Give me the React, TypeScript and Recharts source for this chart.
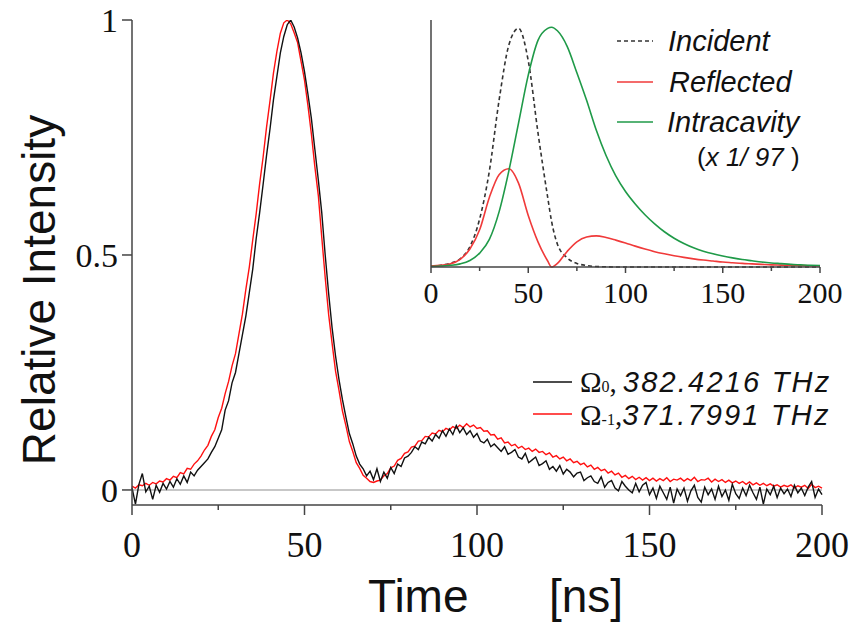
import React from "react";
import {
  LineChart,
  Line,
  XAxis,
  YAxis,
  ReferenceLine,
} from "recharts";

// main trace, sampled every 1 ns from 0 to 200 ns
const SAMPLE_STEP_NS = 1;

const omega0Intensity = [
  0.005, -0.030, 0.012, 0.035, -0.004, 0.008, -0.020, 0.010, -0.005, 0.014,
  0.002, 0.018, 0.006, 0.024, 0.012, 0.030, 0.016, 0.038, 0.030, 0.042,
  0.050, 0.058, 0.066, 0.080, 0.092, 0.110, 0.128, 0.170, 0.190, 0.228,
  0.250, 0.290, 0.330, 0.370, 0.420, 0.470, 0.535, 0.590, 0.650, 0.712,
  0.768, 0.830, 0.880, 0.930, 0.965, 0.990, 1.000, 0.985, 0.962, 0.930,
  0.890, 0.842, 0.790, 0.725, 0.660, 0.590, 0.500, 0.418, 0.345, 0.285,
  0.235, 0.192, 0.155, 0.120, 0.098, 0.072, 0.055, 0.045, 0.030, 0.040,
  0.022, 0.045, 0.018, 0.038, 0.025, 0.048, 0.035, 0.055, 0.050, 0.068,
  0.072, 0.080, 0.092, 0.086, 0.102, 0.098, 0.112, 0.104, 0.118, 0.110,
  0.126, 0.114, 0.130, 0.118, 0.137, 0.122, 0.132, 0.118, 0.126, 0.112,
  0.120, 0.104, 0.100, 0.108, 0.092, 0.098, 0.090, 0.082, 0.092, 0.076,
  0.080, 0.086, 0.070, 0.066, 0.078, 0.058, 0.064, 0.070, 0.052, 0.056,
  0.062, 0.044, 0.050, 0.040, 0.052, 0.034, 0.044, 0.038, 0.028, 0.036,
  0.038, 0.020, 0.026, 0.030, 0.018, 0.014, 0.028, 0.006, 0.016, 0.020,
  0.004, -0.002, 0.018, 0.008, 0.000, -0.006, 0.014, -0.004, 0.010, 0.016,
  -0.010, 0.004, -0.018, 0.008, -0.006, -0.020, 0.006, -0.028, 0.002, -0.012,
  0.004, -0.024, -0.002, 0.010, -0.016, -0.026, 0.006, -0.010, 0.002, -0.020,
  0.008, -0.014, 0.000, -0.022, 0.012, -0.008, -0.018, 0.004, -0.012, 0.010,
  -0.006, -0.020, 0.006, -0.030, 0.002, -0.010, 0.008, -0.016, 0.004, -0.008,
  0.002, -0.014, 0.010, -0.006, 0.004, -0.012, 0.006, 0.018, -0.016, 0.002,
  -0.010,
];

const omegaM1Intensity = [
  0.008, 0.004, 0.011, 0.009, 0.014, 0.010, 0.016, 0.013, 0.019, 0.017,
  0.024, 0.021, 0.029, 0.026, 0.037, 0.034, 0.046, 0.044, 0.055, 0.062,
  0.072, 0.085, 0.095, 0.114, 0.128, 0.154, 0.174, 0.205, 0.231, 0.264,
  0.290, 0.332, 0.374, 0.427, 0.474, 0.532, 0.588, 0.652, 0.708, 0.772,
  0.828, 0.887, 0.933, 0.972, 0.994, 1.000, 0.992, 0.973, 0.952, 0.912,
  0.872, 0.818, 0.757, 0.688, 0.627, 0.538, 0.452, 0.373, 0.312, 0.253,
  0.212, 0.168, 0.137, 0.103, 0.082, 0.058, 0.046, 0.031, 0.025, 0.018,
  0.016, 0.019, 0.021, 0.030, 0.035, 0.047, 0.051, 0.063, 0.067, 0.078,
  0.081, 0.091, 0.093, 0.104, 0.105, 0.114, 0.113, 0.121, 0.119, 0.127,
  0.124, 0.131, 0.128, 0.135, 0.131, 0.138, 0.133, 0.141, 0.134, 0.138,
  0.131, 0.133, 0.125, 0.126, 0.117, 0.118, 0.108, 0.111, 0.100, 0.102,
  0.094, 0.097, 0.089, 0.093, 0.086, 0.089, 0.082, 0.087, 0.080, 0.082,
  0.075, 0.079, 0.070, 0.073, 0.066, 0.070, 0.062, 0.066, 0.058, 0.061,
  0.054, 0.057, 0.049, 0.053, 0.044, 0.048, 0.041, 0.044, 0.036, 0.040,
  0.032, 0.036, 0.027, 0.031, 0.024, 0.029, 0.022, 0.027, 0.021, 0.026,
  0.020, 0.025, 0.019, 0.024, 0.020, 0.026, 0.018, 0.023, 0.021, 0.025,
  0.019, 0.024, 0.020, 0.027, 0.018, 0.022, 0.021, 0.025, 0.017, 0.023,
  0.018, 0.022, 0.016, 0.021, 0.015, 0.019, 0.014, 0.018, 0.012, 0.017,
  0.011, 0.015, 0.010, 0.014, 0.009, 0.013, 0.008, 0.011, 0.006, 0.010,
  0.007, 0.011, 0.004, 0.009, 0.006, 0.010, 0.003, 0.012, 0.005, 0.008,
  0.004,
];

// inset: simulated pulses
const insetTimes = [
  0, 5, 10, 15, 20, 25, 30, 35, 40, 45, 50, 55, 60, 62, 65, 70, 75, 80, 85, 90,
  95, 100, 105, 110, 115, 120, 125, 130, 135, 140, 145, 150, 155, 160, 165, 170,
  175, 180, 185, 190, 195, 200,
];
const incident = [
  0.003, 0.007, 0.016, 0.034, 0.085, 0.2, 0.4, 0.695, 0.925, 0.995, 0.86, 0.56,
  0.29, 0.19, 0.095, 0.038, 0.015, 0.006, 0.002, 0.001, 0, 0, 0, 0, 0, 0, 0, 0,
  0, 0, 0, 0, 0, 0, 0, 0, 0, 0, 0, 0, 0, 0,
];
const reflected = [
  0.004, 0.007, 0.013, 0.032, 0.075, 0.155, 0.29, 0.385, 0.41, 0.35, 0.215,
  0.105, 0.025, 0.0, 0.015, 0.065, 0.105, 0.125, 0.13, 0.123, 0.112, 0.1, 0.087,
  0.075, 0.064, 0.055, 0.047, 0.04, 0.034, 0.029, 0.025, 0.021, 0.018, 0.015,
  0.013, 0.011, 0.009, 0.008, 0.007, 0.006, 0.005, 0.005,
];
const intracavity = [
  0.002, 0.004, 0.007, 0.013, 0.027, 0.058, 0.115, 0.23, 0.4, 0.6, 0.8, 0.945,
  0.995, 1.0, 0.985, 0.92, 0.81, 0.695, 0.57, 0.465, 0.38, 0.315, 0.263, 0.218,
  0.18, 0.147, 0.12, 0.098, 0.08, 0.066, 0.055, 0.046, 0.038, 0.031, 0.026,
  0.021, 0.017, 0.014, 0.011, 0.009, 0.007, 0.006,
];

const mainTicksX = [0, 25, 50, 75, 100, 125, 150, 175, 200];
const mainTicksY = [0, 0.5, 1];

const SERIF = "'Liberation Serif', 'Times New Roman', serif";
const SANS = "'Liberation Sans', Arial, sans-serif";
const AXIS = "#444";

const mainData = omega0Intensity.map((v, i) => ({
  t: i * SAMPLE_STEP_NS,
  o0: v,
  om1: omegaM1Intensity[i],
}));

const insetData = insetTimes.map((t, i) => ({
  t,
  inc: incident[i],
  refl: reflected[i],
  cav: intracavity[i],
}));

function makeTick(majorLen: number, minorLen: number, fontSize: number, labelDy: number) {
  return function Tick(props: any) {
    const { x, y, payload } = props;
    const major = payload.value % 50 === 0;
    return (
      <g>
        <line x1={x} x2={x} y1={y} y2={y + (major ? majorLen : minorLen)} stroke={AXIS} strokeWidth={1.5} />
        {major && (
          <text x={x} y={y + labelDy} textAnchor="middle" fontFamily={SERIF} fontSize={fontSize} fill="#111">
            {payload.value}
          </text>
        )}
      </g>
    );
  };
}

const MainXTick = makeTick(10, 5, 36, 52);
const InsetXTick = makeTick(6, 4, 30, 36);

export default function App() {
  return (
    <div style={{ position: "absolute", left: 0, top: 0, width: 855, height: 624, background: "#fff" }}>
      <div style={{ position: "absolute", left: 0, top: 0 }}>
        <LineChart width={855} height={624} data={mainData} margin={{ top: 20, right: 33, bottom: 59, left: 52 }}>
          <XAxis
            dataKey="t"
            type="number"
            domain={[0, 200]}
            ticks={mainTicksX}
            tickLine={false}
            tickSize={0}
            tickMargin={0}
            tick={<MainXTick />}
            height={60}
            axisLine={{ stroke: AXIS, strokeWidth: 1.5 }}
            interval={0}
          />
          <YAxis
            type="number"
            domain={[-0.032, 1]}
            allowDataOverflow
            ticks={mainTicksY}
            width={80}
            tickSize={10}
            tickMargin={4}
            tickLine={{ stroke: AXIS, strokeWidth: 1.5 }}
            axisLine={{ stroke: AXIS, strokeWidth: 1.5 }}
            tick={{ fontSize: 34, fontFamily: SERIF, fill: "#111" }}
            tickFormatter={(v: number) => String(v)}
          />
          <ReferenceLine y={0} stroke="#b5b5b5" strokeWidth={1.5} />
          <Line dataKey="om1" stroke="#ff1010" strokeWidth={1.4} dot={false} type="linear" isAnimationActive={false} />
          <Line dataKey="o0" stroke="#111" strokeWidth={1.4} dot={false} type="linear" isAnimationActive={false} />
        </LineChart>
      </div>

      <div style={{ position: "absolute", left: 380, top: 0 }}>
        <LineChart width={475} height={320} data={insetData} margin={{ top: 20, right: 35, bottom: 13, left: 50 }}>
          <XAxis
            dataKey="t"
            type="number"
            domain={[0, 200]}
            ticks={mainTicksX}
            tickLine={false}
            tickSize={0}
            tickMargin={0}
            tick={<InsetXTick />}
            height={40}
            axisLine={{ stroke: AXIS, strokeWidth: 1.5 }}
            interval={0}
          />
          <YAxis
            type="number"
            domain={[0, 1.03]}
            width={1}
            tick={false}
            tickLine={false}
            axisLine={{ stroke: AXIS, strokeWidth: 1.5 }}
          />
          <Line dataKey="inc" stroke="#333" strokeWidth={1.6} strokeDasharray="4 3" dot={false} type="monotone" isAnimationActive={false} />
          <Line dataKey="refl" stroke="#f03a3a" strokeWidth={1.6} dot={false} type="monotone" isAnimationActive={false} />
          <Line dataKey="cav" stroke="#1f9a48" strokeWidth={1.6} dot={false} type="monotone" isAnimationActive={false} />
        </LineChart>
      </div>

      <svg width={855} height={624} style={{ position: "absolute", left: 0, top: 0, pointerEvents: "none" }}>
        {/* axis titles */}
        <text
          transform="translate(55 290) rotate(-90)"
          textAnchor="middle"
          fontFamily={SANS}
          fontSize={46}
          fill="#111"
        >
          Relative Intensity
        </text>
        <text x={368} y={612} fontFamily={SANS} fontSize={46} fill="#111">Time</text>
        <text x={549} y={612} fontFamily={SANS} fontSize={46} fill="#111">[ns]</text>

        {/* inset legend */}
        <line x1={617} x2={653} y1={41} y2={41} stroke="#333" strokeWidth={1.6} strokeDasharray="4 3" />
        <text x={668} y={51} fontFamily={SANS} fontStyle="italic" fontSize={29} fill="#111">Incident</text>
        <line x1={617} x2={653} y1={82} y2={82} stroke="#f03a3a" strokeWidth={1.6} />
        <text x={669} y={92} fontFamily={SANS} fontStyle="italic" fontSize={29} fill="#111">Reflected</text>
        <line x1={617} x2={653} y1={122} y2={122} stroke="#1f9a48" strokeWidth={1.6} />
        <text x={667} y={132} fontFamily={SANS} fontStyle="italic" fontSize={29} fill="#111">Intracavity</text>
        <text x={697} y={166} fontFamily={SANS} fontSize={26} fill="#111">
          (<tspan fontStyle="italic">x 1/ 97</tspan> )
        </text>

        {/* main legend */}
        <line x1={533} x2={572} y1={382} y2={382} stroke="#111" strokeWidth={1.4} />
        <text x={580} y={392} fontFamily={SERIF} fontSize={29} fill="#111">
          Ω<tspan fontSize={16}>0</tspan>,
          <tspan fontFamily={SANS} fontStyle="italic" fontSize={29} letterSpacing={2.2} dx={6}>382.4216 THz</tspan>
        </text>
        <line x1={533} x2={572} y1={414} y2={414} stroke="#ff1010" strokeWidth={1.4} />
        <text x={580} y={425} fontFamily={SERIF} fontSize={29} fill="#111">
          Ω<tspan fontSize={16}>-1</tspan>,
          <tspan fontFamily={SANS} fontStyle="italic" fontSize={29} letterSpacing={2.2}>371.7991 THz</tspan>
        </text>
      </svg>
    </div>
  );
}
